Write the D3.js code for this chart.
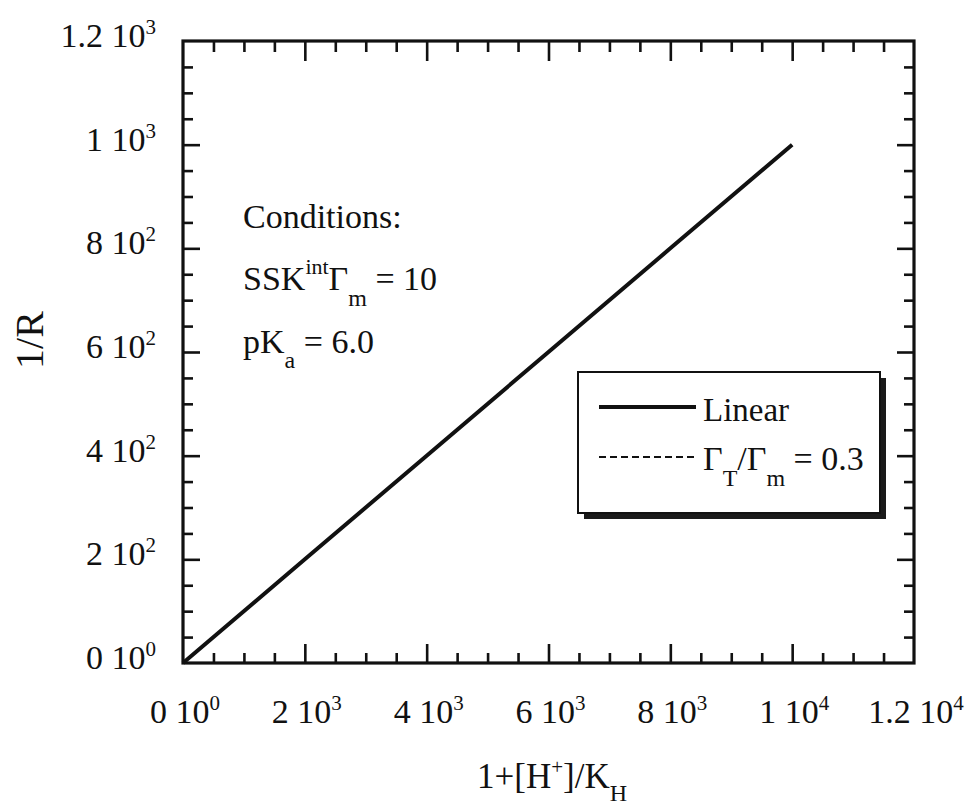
<!DOCTYPE html>
<html><head><meta charset="utf-8">
<script src="https://cdn.jsdelivr.net/npm/d3@7"></script>
<style>
html,body{margin:0;padding:0;background:#fff;}
svg text{font-family:"Liberation Serif","DejaVu Serif","Times New Roman",Times,serif;fill:#111;}
</style></head>
<body>
<svg id="chart" width="972" height="808" font-family="Liberation Serif, DejaVu Serif, serif"></svg>
<script>
// ---- data ----
const linearX = [0, 2000, 4000, 6000, 8000, 10000];
const linearY = [0, 200, 400, 600, 800, 1000];
const ratioX = [0, 2000, 4000, 6000, 8000, 10000];
const ratioY = [0, 200, 400, 600, 800, 1000];
const xTicks = [0, 2000, 4000, 6000, 8000, 10000, 12000];
const xTickMant = ["0", "2", "4", "6", "8", "1", "1.2"];
const xTickExp = ["0", "3", "3", "3", "3", "4", "4"];
const yTicks = [0, 200, 400, 600, 800, 1000, 1200];
const yTickMant = ["0", "2", "4", "6", "8", "1", "1.2"];
const yTickExp = ["0", "2", "2", "2", "2", "3", "3"];
const legendLabels = ["Linear", "ratio"];

// ---- layout ----
const svg = d3.select("#chart");
const L = 183, T = 41, W = 731, H = 622;
const x = d3.scaleLinear().domain([0, 12000]).range([L, L + W]);
const y = d3.scaleLinear().domain([0, 1200]).range([T + H, T]);
const ink = "#111";
const FONT = "Liberation Serif";

function minorTicks(domMax, step) {
  const out = [];
  for (let v = step; v < domMax; v += step) if (v % (step * 4) !== 0) out.push(v);
  return out;
}
const xMinor = minorTicks(12000, 500);
const yMinor = minorTicks(1200, 50);

function drawAxis(axisFn, scale, pos, ticks, size) {
  const g = svg.append("g").attr("transform", pos)
    .call(axisFn(scale).tickValues(ticks).tickSize(size).tickSizeOuter(0).tickFormat(""));
  g.select(".domain").remove();
  g.selectAll(".tick line").attr("stroke", ink).attr("stroke-width", 2.6);
}
drawAxis(d3.axisBottom, x, `translate(0,${T + H})`, xTicks.slice(1, -1), -19);
drawAxis(d3.axisBottom, x, `translate(0,${T + H})`, xMinor, -10);
drawAxis(d3.axisTop, x, `translate(0,${T})`, xTicks.slice(1, -1), -20);
drawAxis(d3.axisTop, x, `translate(0,${T})`, xMinor, -11);
drawAxis(d3.axisLeft, y, `translate(${L},0)`, yTicks.slice(1, -1), -17);
drawAxis(d3.axisLeft, y, `translate(${L},0)`, yMinor, -10);
drawAxis(d3.axisRight, y, `translate(${L + W},0)`, yTicks.slice(1, -1), -17);
drawAxis(d3.axisRight, y, `translate(${L + W},0)`, yMinor, -10);

svg.append("rect").attr("x", L).attr("y", T).attr("width", W).attr("height", H)
  .attr("fill", "none").attr("stroke", ink).attr("stroke-width", 3.2);

function txt(attrs) {
  const t = svg.append("text").attr("font-family", FONT).attr("fill", ink);
  Object.entries(attrs).forEach(([k, v]) => t.attr(k, v));
  return t;
}
function sciLabel(g, m, e) {
  g.append("tspan").text(m + " 10");
  g.append("tspan").attr("dy", -13).attr("font-size", 21).text(e);
}
xTicks.forEach((v, i) => {
  const t = txt({x: x(v) + 2, y: T + H + 60, "text-anchor": "middle", "font-size": 34});
  sciLabel(t, xTickMant[i], xTickExp[i]);
});
yTicks.forEach((v, i) => {
  const t = txt({x: 156, y: y(v) + 6, "text-anchor": "end", "font-size": 34});
  sciLabel(t, yTickMant[i], yTickExp[i]);
});

const xt = txt({x: 552, y: 788, "text-anchor": "middle", "font-size": 35});
xt.append("tspan").text("1+[H");
xt.append("tspan").attr("dy", -14).attr("font-size", 21).text("+");
xt.append("tspan").attr("dy", 14).text("]/K");
xt.append("tspan").attr("dy", 13).attr("font-size", 24).text("H");

txt({transform: "translate(43,340) rotate(-90)", "text-anchor": "middle", "font-size": 40}).text("1/R");

const lineGen = (xs, ys) => d3.line()(xs.map((v, i) => [x(v), y(ys[i])]));
svg.append("path").attr("d", lineGen(ratioX, ratioY))
  .attr("fill", "none").attr("stroke", ink).attr("stroke-width", 2).attr("stroke-dasharray", "7,4");
svg.append("path").attr("d", lineGen(linearX, linearY))
  .attr("fill", "none").attr("stroke", ink).attr("stroke-width", 4);

txt({x: 243, y: 228, "font-size": 34}).text("Conditions:");
const c2 = txt({x: 243, y: 290, "font-size": 34});
c2.append("tspan").text("SSK");
c2.append("tspan").attr("dy", -16).attr("font-size", 22).text("int");
c2.append("tspan").attr("dy", 16).text("Γ");
c2.append("tspan").attr("dy", 16).attr("font-size", 24).text("m");
c2.append("tspan").attr("dy", -16).text(" = 10");
const c3 = txt({x: 243, y: 353, "font-size": 34});
c3.append("tspan").text("pK");
c3.append("tspan").attr("dy", 15).attr("font-size", 24).text("a");
c3.append("tspan").attr("dy", -15).text(" = 6.0");

const lx = 578, ly = 372, lw = 302, lh = 141;
svg.append("rect").attr("x", lx + 6).attr("y", ly + 6).attr("width", lw).attr("height", lh).attr("fill", "#1a1a1a");
svg.append("rect").attr("x", lx).attr("y", ly).attr("width", lw).attr("height", lh)
  .attr("fill", "#fff").attr("stroke", ink).attr("stroke-width", 2);
svg.append("line").attr("x1", 599).attr("x2", 696).attr("y1", 407).attr("y2", 407)
  .attr("stroke", ink).attr("stroke-width", 4);
txt({x: 703, y: 421, "font-size": 33}).text(legendLabels[0]);
svg.append("line").attr("x1", 599).attr("x2", 696).attr("y1", 457).attr("y2", 457)
  .attr("stroke", ink).attr("stroke-width", 2).attr("stroke-dasharray", "7,4");
const lt = txt({x: 703, y: 470, "font-size": 34});
lt.append("tspan").text("Γ");
lt.append("tspan").attr("dy", 16).attr("font-size", 24).text("T");
lt.append("tspan").attr("dy", -16).text("/Γ");
lt.append("tspan").attr("dy", 16).attr("font-size", 24).text("m");
lt.append("tspan").attr("dy", -16).text(" = 0.3");
</script>
</body></html>
